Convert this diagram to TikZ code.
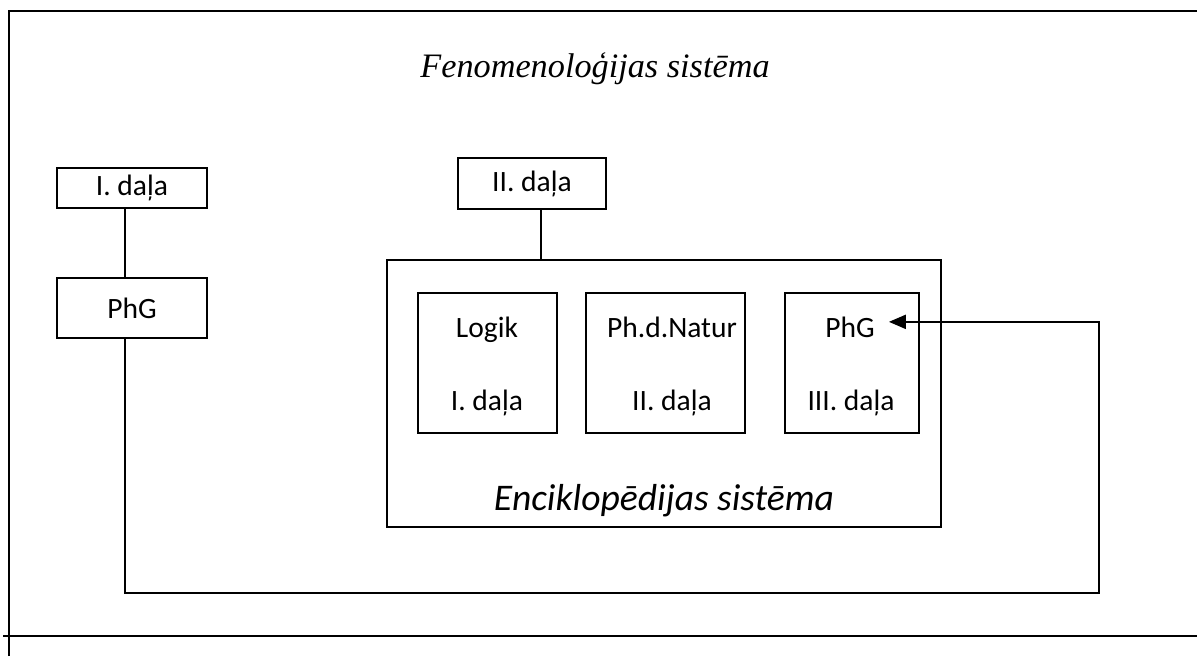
\documentclass[tikz,border=0pt]{standalone}
\usepackage{fontspec}
\setmainfont{Carlito}
\newfontfamily\serifit{Liberation Serif}
\usetikzlibrary{arrows.meta,positioning}
\tikzset{
  part/.style={draw,line width=1.2pt,minimum width=3cm,minimum height=0.8cm,font=\fontsize{16.8}{20}\selectfont},
  subbox/.style={draw,line width=1.2pt,minimum height=2.8cm},
  txt/.style={anchor=base,font=\fontsize{16.8}{20}\selectfont},
  line/.style={line width=1.2pt},
  back/.style={line width=1.2pt,-{Triangle[length=3.4mm,width=2.8mm]}},
  frame/.style={line width=1.4pt}
}

\begin{document}
\begin{tikzpicture}[x=0.02cm,y=-0.02cm]
  \useasboundingbox (0,0) rectangle (1197,656);
  % outer frame
  \draw[frame] (9,656) -- (9,11) -- (1197,11);
  \draw[frame] (3,636) -- (1197,636);

  \node[anchor=base,font=\serifit\itshape\fontsize{19.5}{23}\selectfont] (title) at (595,77) {Fenomenoloģijas sistēma};

  % left column
  \node[part] (dalaOne) at (132,188) {I. daļa};
  \node[part,minimum height=1.2cm] (phgLeft) at (132,308) {PhG};
  \draw[line] ([xshift=-0.14cm]dalaOne.south) -- ([xshift=-0.14cm]phgLeft.north);

  % encyclopaedia
  \node[part,minimum width=2.96cm,minimum height=1.02cm] (dalaTwo) at (532,183.5) {II. daļa};
  \node[draw,line width=1.2pt,minimum width=11.08cm,minimum height=5.34cm] (encBox) at (664,393.5) {};
  \node[anchor=base,font=\itshape\fontsize{21.4}{25}\selectfont] (encName) at (664,510) {Enciklopēdijas sistēma};
  \coordinate (dalaTwoFoot) at (541,260);
  \draw[line] (dalaTwo.south -| dalaTwoFoot) -- (dalaTwoFoot);

  \node[subbox,minimum width=2.78cm] (logikBox) at (487.5,363) {};
  \node[subbox,minimum width=3.18cm] (naturBox) at (665.5,363) {};
  \node[subbox,minimum width=2.68cm] (phgBox) at (852,363) {};
  \node[txt] (logikTop) at (487,337) {Logik};
  \node[txt] (logikBot) at (487,410) {I. daļa};
  \node[txt] (naturTop) at (672,337) {Ph.d.Natur};
  \node[txt] (naturBot) at (672,410) {II. daļa};
  \node[txt] (phgTop) at (850,337) {PhG};
  \node[txt] (phgBot) at (851,410) {III. daļa};

  % way back
  \coordinate (turn) at (1099,593);
  \draw[back] ([xshift=-0.14cm]phgLeft.south) |- (turn) |- ([xshift=0.16cm,yshift=0.1cm]phgTop.east);
\end{tikzpicture}
\end{document}
